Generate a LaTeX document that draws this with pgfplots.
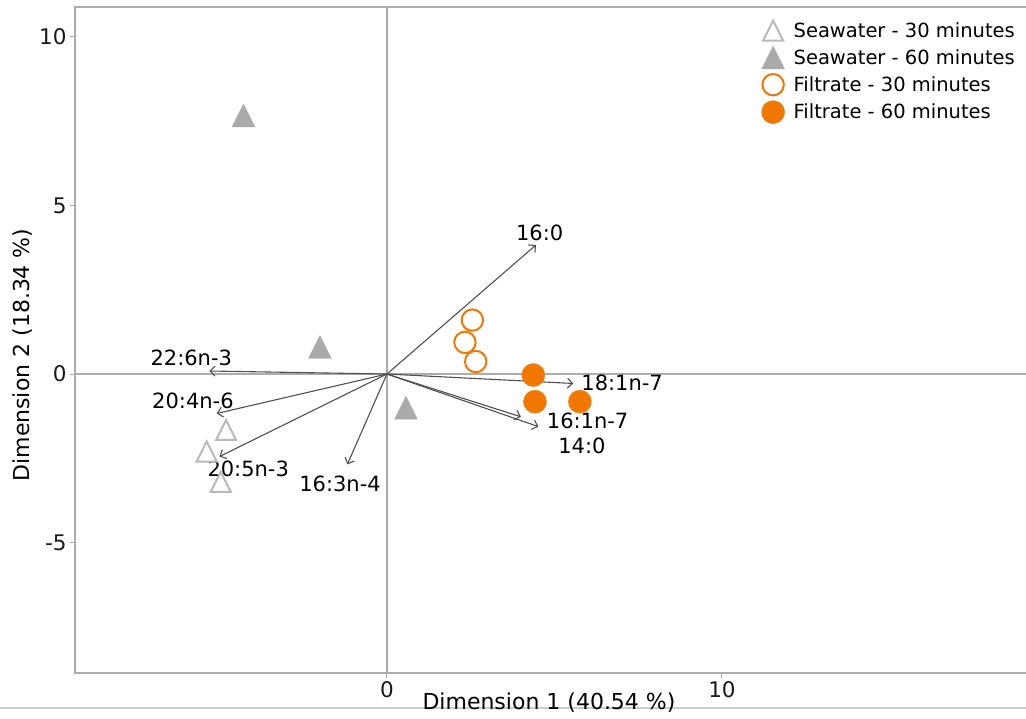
\documentclass[border=0pt]{standalone}
\usepackage{pgfplots}
\pgfplotsset{compat=1.18}
\usepackage{fontspec}
\setmainfont{DejaVu Sans}
\usetikzlibrary{arrows.meta}

\definecolor{orng}{RGB}{240,120,0}
\definecolor{tri}{RGB}{170,170,170}
\definecolor{trio}{RGB}{185,185,185}
\definecolor{spine}{RGB}{172,172,172}
\definecolor{vec}{RGB}{80,80,80}
\definecolor{rule}{RGB}{205,205,205}

% matplotlib style triangle (as wide as it is high)
\pgfdeclareplotmark{mtri}{%
  \pgfpathmoveto{\pgfqpoint{0pt}{\pgfplotmarksize}}%
  \pgfpathlineto{\pgfqpoint{-\pgfplotmarksize}{-\pgfplotmarksize}}%
  \pgfpathlineto{\pgfqpoint{\pgfplotmarksize}{-\pgfplotmarksize}}%
  \pgfpathclose
  \pgfusepathqfillstroke}

\begin{document}
\begin{tikzpicture}[font=\fontsize{21}{25}\selectfont]
% thin rule under the x label (axis box sits at the origin)
\draw[rule, line width=1.5pt] (-75pt,-35pt) -- ++(1026pt,0);
\begin{axis}[
    width=982pt, height=666pt, scale only axis,
    xmin=-9.31, xmax=20, ymin=-8.87, ymax=10.89,
    xtick={0,10}, ytick={-5,0,5,10},
    tick pos=left, tick align=outside,
    major tick length=5pt,
    tick style={spine, line width=1pt},
    axis line style={spine, line width=1.6pt},
    ticklabel style={font=\fontsize{21.5}{25}\selectfont, text=black!90},
    /pgf/number format/assume math mode=true,
    xlabel={Dimension 1 (40.54 \%)},
    ylabel={Dimension 2 (18.34 \%)},
    label style={font=\fontsize{22}{26}\selectfont},
    xlabel style={at={(axis description cs:0.4827,-0.045)}, anchor=center},
    ylabel style={at={(axis description cs:-0.053,0.4775)}, anchor=center},
    legend cell align=left,
    legend style={draw=none, fill=none, inner sep=0pt,
        at={(axis description cs:0.699,0.980)}, anchor=north west,
        font=\fontsize{19.5}{23}\selectfont, row sep=5.2pt, column sep=7pt},
    legend image code/.code={\draw[#1,only marks] plot coordinates {(0pt,0pt)};},
]

% zero lines
\draw[spine, line width=1.4pt] (axis cs:0,-8.87) -- (axis cs:0,10.89);
\draw[spine, line width=1.4pt] (axis cs:-9.31,0) -- (axis cs:20,0);

\addplot[only marks, mark=mtri, mark size=10pt,
    mark options={draw=trio, fill=white, line width=2pt}]
    coordinates {(-4.80,-1.66) (-5.38,-2.30) (-4.96,-3.20)};
\addlegendentry{Seawater - 30 minutes}

\addplot[only marks, mark=mtri, mark size=11.4pt,
    mark options={draw=tri, fill=tri, line width=0.4pt}]
    coordinates {(-4.28,7.67) (-2.00,0.80) (0.57,-1.00)};
\addlegendentry{Seawater - 60 minutes}

\addplot[only marks, mark=*, mark size=10.7pt,
    mark options={draw=orng, fill=white, line width=2pt}]
    coordinates {(2.55,1.60) (2.33,0.94) (2.65,0.37)};
\addlegendentry{Filtrate - 30 minutes}

\addplot[only marks, mark=*, mark size=11.5pt,
    mark options={draw=orng, fill=orng, line width=0.4pt}]
    coordinates {(4.37,-0.03) (4.42,-0.82) (5.76,-0.82)};
\addlegendentry{Filtrate - 60 minutes}

% loadings
\pgfplotsset{vecs/.style={vec, line width=1.1pt, -{Straight Barb[length=5pt,width=10pt]}, forget plot}}
\addplot[vecs] coordinates {(0,0) (4.45,3.83)};
\addplot[vecs] coordinates {(0,0) (5.56,-0.28)};
\addplot[vecs] coordinates {(0,0) (4.52,-1.56)};
\addplot[vecs] coordinates {(0,0) (4.00,-1.27)};
\addplot[vecs] coordinates {(0,0) (-5.30,0.09)};
\addplot[vecs] coordinates {(0,0) (-5.08,-1.17)};
\addplot[vecs] coordinates {(0,0) (-5.00,-2.45)};
\addplot[vecs] coordinates {(0,0) (-1.18,-2.68)};

\node at (axis cs:4.56,4.20) {16:0};
\node at (axis cs:7.02,-0.25) {18:1n-7};
\node at (axis cs:5.99,-1.39) {16:1n-7};
\node at (axis cs:5.82,-2.12) {14:0};
\node at (axis cs:-5.84,0.49) {22:6n-3};
\node at (axis cs:-5.79,-0.80) {20:4n-6};
\node at (axis cs:-4.14,-2.82) {20:5n-3};
\node at (axis cs:-1.40,-3.26) {16:3n-4};
\end{axis}
\pgfresetboundingbox
\path[use as bounding box] ([xshift=-75pt,yshift=-46pt]current axis.south west)
    rectangle ([xshift=951pt,yshift=673pt]current axis.south west);
\end{tikzpicture}
\end{document}
